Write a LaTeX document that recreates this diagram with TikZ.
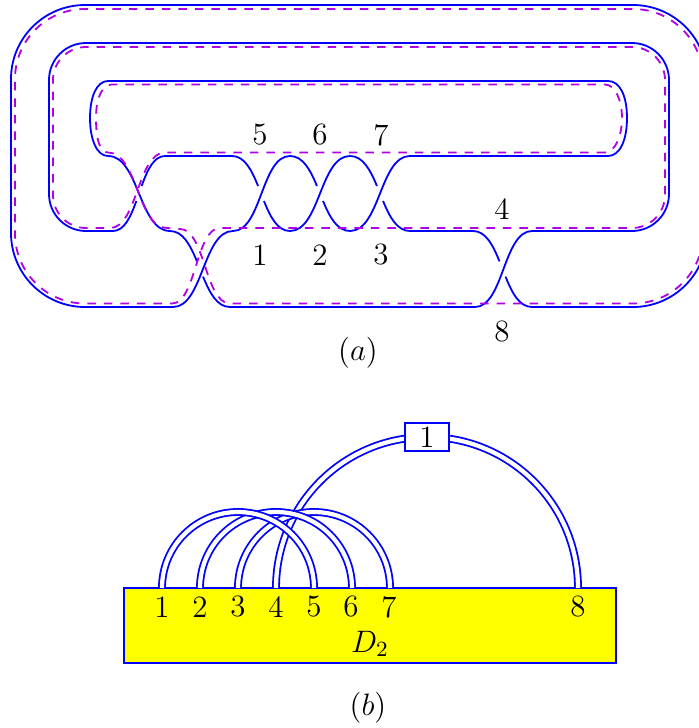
\RequirePackage{fix-cm}
\documentclass[tikz,border=0pt]{standalone}
\definecolor{seamcol}{RGB}{176,0,230}
\definecolor{pureblue}{RGB}{0,0,255}
\definecolor{pureyellow}{RGB}{255,255,0}
\newcommand{\SFull}[4]{\draw[knot] (#1,#2) .. controls ({(#1+#3)/2},#2) and ({(#1+#3)/2},#4) .. (#3,#4);}
\newcommand{\SBroken}[4]{%
  \draw[knot] (#1,#2) .. controls ({#1+.2165*(#3-#1)},#2) and ({#1+.339*(#3-#1)},{#2+.1875*(#4-#2)}) .. ({#1+.449*(#3-#1)},{#2+.4*(#4-#2)});
  \draw[knot] (#3,#4) .. controls ({#3-.2165*(#3-#1)},#4) and ({#3-.339*(#3-#1)},{#4-.1875*(#4-#2)}) .. ({#3-.449*(#3-#1)},{#4-.4*(#4-#2)});}
\tikzset{
  knot/.style={draw=pureblue,line width=0.72pt},
  seam/.style={draw=seamcol,line width=0.72pt,dash pattern=on 3.4pt off 3.2pt},
  lab/.style={inner sep=0pt,font=\fontsize{12.4}{14}\selectfont,text=black},
  band/.style={draw=pureblue,line width=0.72pt,double=white,double distance=1.7pt},
}
\begin{document}
\begin{tikzpicture}[x=0.4pt,y=-0.4pt]
\useasboundingbox (0,0) rectangle (699,728);
\clip (0,0) rectangle (699,728);
% --- (a) outlines
\draw[knot] (410,156) -- (608,156) .. controls (620,156) and (627,140) .. (627,118) .. controls (627,96) and (620,81) .. (608,81) -- (108,81) .. controls (97,81) and (90,96) .. (90,118) .. controls (90,140) and (97,156) .. (108,156);
\draw[knot,rounded corners=14.8pt] (532,231) -- (669,231) -- (669,43) -- (49,43) -- (49,231) -- (113,231);
\draw[knot,rounded corners=29.6pt] (532,307) -- (707,307) -- (707,5) -- (11,5) -- (11,307) -- (173,307);
\draw[knot] (165,156) -- (232,156);
\draw[knot] (410,231) -- (473,231);
\draw[knot] (230,307) -- (475,307);
% crossings
\SFull{108}{156}{170}{231}
\SBroken{113}{231}{165}{156}
\SFull{173}{307}{233}{231}
\SBroken{170}{231}{230}{307}
\SBroken{232}{156}{290}{231}
\SFull{233}{231}{290}{156}
\SBroken{290}{156}{350}{231}
\SFull{290}{231}{350}{156}
\SBroken{350}{156}{410}{231}
\SFull{350}{231}{410}{156}
\SBroken{473}{231}{532}{307}
\SFull{475}{307}{532}{231}
% seam
\draw[seam] (605,152.5) -- (165,152.5) .. controls (137.5,152.5) and (137.5,228) .. (110,228)
  -- (86,228) .. controls (67.8,228) and (53,213.2) .. (53,195) -- (53,80) .. controls (53,61.8) and (67.8,47) .. (86,47)
  -- (632,47) .. controls (650.2,47) and (665,61.8) .. (665,80) -- (665,195) .. controls (665,213.2) and (650.2,228) .. (632,228) -- (220,228)
  .. controls (196,228) and (196,303.5) .. (172,303.5)
  -- (85,303.5) .. controls (46.3,303.5) and (15,272.2) .. (15,233.5) -- (15,79) .. controls (15,40.3) and (46.3,9) .. (85,9)
  -- (633,9) .. controls (671.7,9) and (703,40.3) .. (703,79) -- (703,233.5) .. controls (703,272.2) and (671.7,303.5) .. (633,303.5) -- (230,303.5)
  .. controls (205,303.5) and (205,229) .. (180,229) -- (167,228)
  .. controls (137.5,228) and (137.5,152.5) .. (108,152.5)
  .. controls (100,152.5) and (96,140) .. (96,118) .. controls (96,96) and (103,84.5) .. (112,84.5)
  -- (605,84.5) .. controls (615,84.5) and (622,100) .. (622,118) .. controls (622,136) and (615,152.5) .. (605,152.5);
% labels (a)
\node[lab] (u5) at (260,135) {5};
\node[lab] (u6) at (320,135) {6};
\node[lab] (u7) at (381,135) {7};
\node[lab] (l1) at (260,255) {1};
\node[lab] (l2) at (320,255) {2};
\node[lab] (l3) at (381,255) {3};
\node[lab] (u4) at (502,209) {4};
\node[lab] (l8) at (502,332) {8};
\node[lab] (capa) at (358,353) {$(a)$};
% --- (b)
\path[fill=pureyellow,draw=pureblue,line width=0.72pt] (124,588) rectangle (616,663);
\draw[band] (276,588) arc[start angle=180,end angle=360,radius=151];
\draw[band] (238,588) arc[start angle=180,end angle=360,radius=76];
\draw[band] (200,588) arc[start angle=180,end angle=360,radius=76];
\draw[band] (162,588) arc[start angle=180,end angle=360,radius=76];
\node[draw=pureblue,line width=0.72pt,fill=white,minimum width=17.4pt,minimum height=11.2pt,inner sep=0pt,font=\fontsize{12.4}{14}\selectfont] (box) at (427,437) {1};
\foreach \i/\x in {1/162,2/200,3/238,4/276,5/314,6/351,7/389,8/578}{
  \node[lab] (f\i) at (\x,607) {\i};
}
\node[lab] (dd) at (370,644) {$D_2$};
\node[lab] (capb) at (368,708) {$(b)$};
\end{tikzpicture}
\end{document}
